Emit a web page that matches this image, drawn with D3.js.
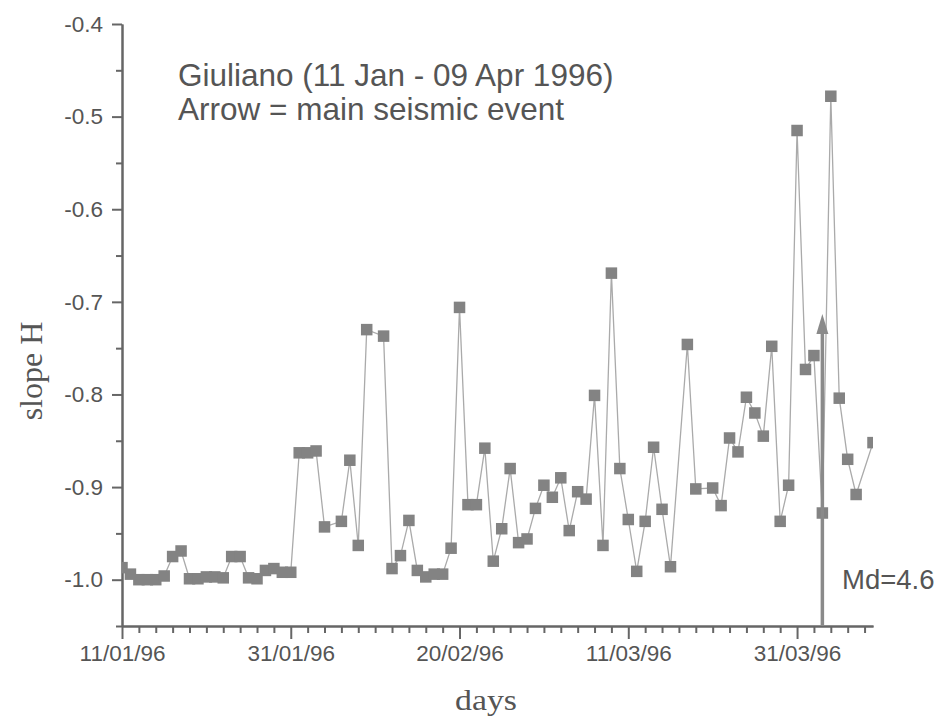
<!DOCTYPE html>
<html>
<head>
<meta charset="utf-8">
<script src="https://cdn.jsdelivr.net/npm/d3@7"></script>
<style>
  body { margin: 0; background: #fff; }
  text { font-family: "Liberation Sans", Arial, sans-serif; fill: #555; }
</style>
</head>
<body>
<div id="chart"></div>
<script>
const w = 948;
const h = 718;
const margin = { left: 122, right: 75, top: 24, bottom: 92 };

// day offsets from 11 Jan 1996 (a few days have no value)
const dayIndex = [
  0, 1, 2, 3, 4, 5, 6, 7, 8, 9, 10, 11, 12, 13, 14, 15, 16, 17, 18, 19, 20,
  21, 22, 23, 24, 26, 27, 28, 29, 31, 32, 33, 34, 35, 36, 37, 38, 39, 40,
  41, 42, 43, 44, 45, 46, 47, 48, 49, 50, 51, 52, 53, 54, 55, 56, 57, 58, 59, 60,
  61, 62, 63, 64, 65, 67, 68, 70, 71, 72, 73, 74, 75, 76, 77, 78, 79, 80,
  81, 82, 83, 84, 85, 86, 87, 89
];
const slopeH = [
  -0.987, -0.994, -1.000, -1.000, -1.000, -0.996, -0.975, -0.969, -0.999, -0.999, -0.997, -0.997, -0.998, -0.975, -0.975, -0.998, -0.999, -0.990, -0.988, -0.992, -0.992,
  -0.863, -0.863, -0.861, -0.943, -0.937, -0.871, -0.963, -0.730, -0.737, -0.988, -0.974, -0.936, -0.990, -0.997, -0.994, -0.994, -0.966, -0.706,
  -0.919, -0.919, -0.858, -0.980, -0.945, -0.880, -0.960, -0.956, -0.923, -0.898, -0.911, -0.890, -0.947, -0.905, -0.913, -0.801, -0.963, -0.669, -0.880, -0.935,
  -0.991, -0.937, -0.857, -0.924, -0.986, -0.746, -0.902, -0.901, -0.920, -0.847, -0.862, -0.803, -0.820, -0.845, -0.748, -0.937, -0.898, -0.515,
  -0.773, -0.758, -0.928, -0.478, -0.804, -0.870, -0.908, -0.852
];

const xTickDays = [0, 20, 40, 60, 80];
const xTickLabels = ["11/01/96", "31/01/96", "20/02/96", "11/03/96", "31/03/96"];
const yTicks = [-1.0, -0.9, -0.8, -0.7, -0.6, -0.5, -0.4];
const yTickLabels = ["-1.0", "-0.9", "-0.8", "-0.7", "-0.6", "-0.5", "-0.4"];

const eventDay = 83.5;      // main seismic event
const eventTop = -0.713;
const eventLabel = "Md=4.6";
const titleLines = ["Giuliano (11 Jan - 09 Apr 1996)", "Arrow = main seismic event"];

const start = new Date(Date.UTC(1996, 0, 11));
const toDate = d => d3.utcDay.offset(start, d);
const data = dayIndex.map((d, i) => ({ date: toDate(d), value: slopeH[i] }));

const svg = d3.select("#chart")
  .append("svg")
  .attr("width", w)
  .attr("height", h);

const x = d3.scaleUtc()
  .domain([start, toDate(89)])
  .range([margin.left, w - margin.right]);

const y = d3.scaleLinear()
  .domain([-1.05, -0.4])
  .range([h - margin.bottom, margin.top]);

svg.append("clipPath").attr("id", "plot")
  .append("rect")
  .attr("x", margin.left)
  .attr("y", margin.top)
  .attr("width", w - margin.left - margin.right)
  .attr("height", h - margin.top - margin.bottom);

// axes: major + minor ticks
const minorX = d3.range(0, 89, 2).filter(d => !xTickDays.includes(d)).map(toDate);
const minorY = d3.range(-1.05, -0.4, 0.1).map(v => +v.toFixed(2));

svg.append("g")
  .attr("class", "minor")
  .attr("transform", `translate(0,${h - margin.bottom})`)
  .call(d3.axisBottom(x).tickValues(minorX).tickSize(7).tickFormat("").tickSizeOuter(0));

svg.append("g")
  .attr("class", "minor")
  .attr("transform", `translate(${margin.left},0)`)
  .call(d3.axisLeft(y).tickValues(minorY).tickSize(6).tickFormat("").tickSizeOuter(0));

svg.append("g")
  .attr("class", "x axis")
  .attr("transform", `translate(0,${h - margin.bottom})`)
  .call(d3.axisBottom(x)
    .tickValues(xTickDays.map(toDate))
    .tickFormat((d, i) => xTickLabels[i])
    .tickSize(13)
    .tickPadding(6)
    .tickSizeOuter(0));

svg.append("g")
  .attr("class", "y axis")
  .attr("transform", `translate(${margin.left},0)`)
  .call(d3.axisLeft(y)
    .tickValues(yTicks)
    .tickFormat((d, i) => yTickLabels[i])
    .tickSize(10)
    .tickPadding(9)
    .tickSizeOuter(0));

svg.selectAll(".axis text")
  .style("font-family", "'Liberation Sans', Arial, sans-serif")
  .style("font-size", "22.5px")
  .attr("fill", "#555");
svg.selectAll(".axis path, .axis line, .minor path, .minor line")
  .attr("stroke", "#666")
  .attr("stroke-width", 2);

// series
const plot = svg.append("g").attr("clip-path", "url(#plot)");

plot.append("path")
  .datum(data)
  .attr("fill", "none")
  .attr("stroke", "#aaaaaa")
  .attr("stroke-width", 1.3)
  .attr("d", d3.line().x(d => x(d.date)).y(d => y(d.value)));

const ms = 11.5;
plot.selectAll("rect.pt")
  .data(data)
  .enter()
  .append("rect")
  .attr("class", "pt")
  .attr("x", d => x(d.date) - ms / 2)
  .attr("y", d => y(d.value) - ms / 2)
  .attr("width", ms)
  .attr("height", ms)
  .attr("fill", "#838383");

// arrow for the main event
const ax = x(toDate(eventDay));
svg.append("line")
  .attr("x1", ax).attr("x2", ax)
  .attr("y1", y(-1.05)).attr("y2", y(eventTop) + 14)
  .attr("stroke", "#8a8a8a")
  .attr("stroke-width", 3.5);
svg.append("path")
  .attr("d", `M${ax},${y(eventTop)} L${ax - 6},${y(eventTop) + 20} L${ax + 6},${y(eventTop) + 20} Z`)
  .attr("fill", "#8a8a8a");

svg.append("text")
  .attr("x", 842)
  .attr("y", 589)
  .style("font-size", "27.5px")
  .text(eventLabel);

// title lines
svg.selectAll("text.title")
  .data(titleLines)
  .enter()
  .append("text")
  .attr("class", "title")
  .attr("x", 178)
  .attr("y", (d, i) => 86 + i * 34)
  .style("font-size", "31.5px")
  .text(d => d);

// axis titles
svg.append("text")
  .attr("transform", "translate(42,371) rotate(-90)")
  .attr("text-anchor", "middle")
  .style("font-family", "'Liberation Serif', 'Times New Roman', serif")
  .style("font-size", "32px")
  .text("slope H");

svg.append("text")
  .attr("x", 486)
  .attr("y", 710)
  .attr("text-anchor", "middle")
  .attr("textLength", 62)
  .attr("lengthAdjust", "spacingAndGlyphs")
  .style("font-family", "'Liberation Serif', 'Times New Roman', serif")
  .style("font-size", "30px")
  .text("days");
</script>
</body>
</html>
